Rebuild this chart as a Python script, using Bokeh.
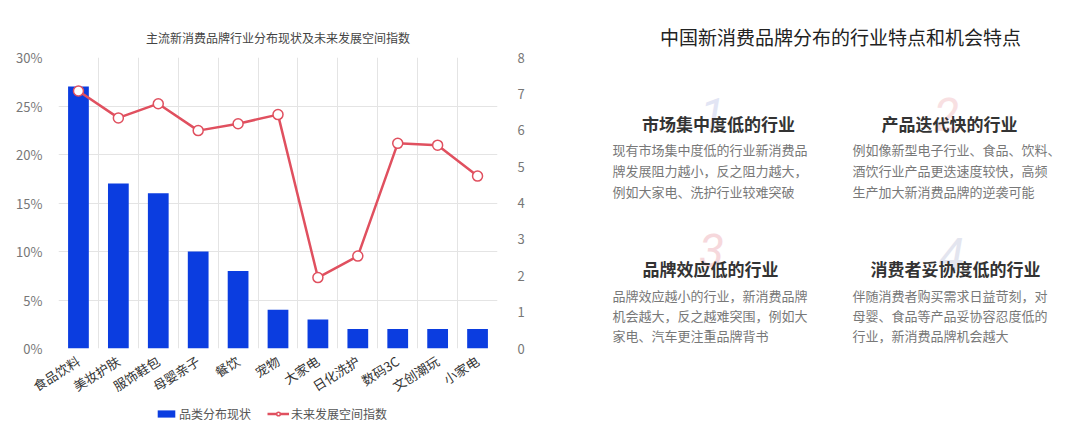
from bokeh.plotting import figure
from bokeh.models import (Range1d, LinearAxis, FixedTicker, PrintfTickFormatter,
                          Legend, LegendItem, Label, ColumnDataSource, Title)
from bokeh.layouts import row, column
from bokeh.embed import file_html
from bokeh.resources import INLINE

# ---------------- data ----------------
categories = ["食品饮料", "美妆护肤", "服饰鞋包", "母婴亲子", "餐饮", "宠物",
              "大家电", "日化洗护", "数码3C", "文创潮玩", "小家电"]
share_pct = [27, 17, 16, 10, 8, 4, 3, 2, 2, 2, 2]
space_index = [7.08, 6.34, 6.73, 5.99, 6.18, 6.43, 1.95, 2.54, 5.64, 5.59, 4.74]
left_ticks = [0, 5, 10, 15, 20, 25, 30]
right_ticks = [0, 1, 2, 3, 4, 5, 6, 7, 8]
chart_title = "主流新消费品牌行业分布现状及未来发展空间指数"
legend_labels = ["品类分布现状", "未来发展空间指数"]

panel_title = "中国新消费品牌分布的行业特点和机会特点"
card_numbers = ["1", "2", "3", "4"]
card_titles = ["市场集中度低的行业", "产品迭代快的行业", "品牌效应低的行业", "消费者妥协度低的行业"]
card_bodies = [
    ["现有市场集中度低的行业新消费品", "牌发展阻力越小，反之阻力越大，", "例如大家电、洗护行业较难突破"],
    ["例如像新型电子行业、食品、饮料、", "酒饮行业产品更迭速度较快，高频", "生产加大新消费品牌的逆袭可能"],
    ["品牌效应越小的行业，新消费品牌", "机会越大，反之越难突围，例如大", "家电、汽车更注重品牌背书"],
    ["伴随消费者购买需求日益苛刻，对", "母婴、食品等产品妥协容忍度低的", "行业，新消费品牌机会越大"],
]

FONT = "Noto Sans CJK SC"
BLUE = "#0b3de0"
RED = "#e0505f"
GRID = "#e4e4e4"

W, H = 532, 424
LEG_H = 18
H1 = H - LEG_H
BL, BR, BT = 58, 35, 57
BB = H1 - 349            # frame 58..497 x 57..349

# ---------------- left chart ----------------
xs = list(range(len(categories)))
src = ColumnDataSource(dict(x=xs, share=share_pct, idx=space_index))

p1 = figure(width=W, height=H1,
            x_range=Range1d(-0.5, len(categories) - 0.5),
            y_range=Range1d(left_ticks[0], left_ticks[-1]),
            output_backend="svg", toolbar_location=None,
            min_border_left=BL, min_border_right=BR,
            min_border_top=BT, min_border_bottom=BB)
p1.extra_y_ranges = {"idx": Range1d(right_ticks[0], right_ticks[-1])}
p1.outline_line_color = None

p1.title = Title(text=chart_title, align="center", text_font=FONT,
                 text_font_size="12px", text_color="#444444",
                 text_font_style="normal", standoff=24)

bar_style = dict(fill_color=BLUE, line_color=None)
line_style = dict(line_color=RED, line_width=2.5)
dot_style = dict(marker="circle", size=10, fill_color="white", line_color=RED, line_width=1.5)

p1.vbar(x="x", top="share", width=0.52, source=src, **bar_style)
p1.line(x="x", y="idx", source=src, y_range_name="idx", **line_style)
p1.scatter(x="x", y="idx", source=src, y_range_name="idx", **dot_style)

p1.xaxis.ticker = FixedTicker(ticks=xs)
p1.xaxis.major_label_overrides = {i: c for i, c in zip(xs, categories)}
p1.xaxis.major_label_orientation = 0.56
p1.yaxis.ticker = FixedTicker(ticks=left_ticks)
p1.yaxis.formatter = PrintfTickFormatter(format="%d%%")

raxis = LinearAxis(y_range_name="idx", ticker=FixedTicker(ticks=right_ticks))
p1.add_layout(raxis, "right")

for ax in p1.axis:
    ax.axis_line_color = None
    ax.major_tick_line_color = None
    ax.minor_tick_line_color = None
    ax.major_label_text_font = FONT
    ax.major_label_text_font_size = "13px"
    ax.major_label_text_color = "#777777"
p1.xaxis.major_label_text_color = "#333333"
p1.xaxis.major_label_standoff = 5
p1.yaxis[0].major_label_standoff = 10
raxis.major_label_standoff = 14

p1.ygrid.ticker = FixedTicker(ticks=left_ticks)
p1.ygrid.grid_line_color = GRID
p1.xgrid.ticker = FixedTicker(ticks=[i - 0.5 for i in range(len(categories) + 1)])
p1.xgrid.grid_line_color = GRID

# ---------------- legend strip under the chart ----------------
p3 = figure(width=W, height=LEG_H, x_range=Range1d(0, W), y_range=Range1d(LEG_H, 0),
            output_backend="svg", toolbar_location=None, min_border=0,
            x_axis_location=None, y_axis_location=None)
p3.grid.visible = False
p3.outline_line_color = None
nan = float("nan")
proxy = ColumnDataSource(dict(x=[nan], top=[nan], y=[nan]))   # legend swatches only
leg_bar = p3.vbar(x="x", top="top", width=1, source=proxy, **bar_style)
leg_line = p3.line(x="x", y="y", source=proxy, **line_style)
leg_dot = p3.scatter(x="x", y="y", source=proxy, **dot_style)
legend = Legend(items=[LegendItem(label=legend_labels[0], renderers=[leg_bar], index=0),
                       LegendItem(label=legend_labels[1], renderers=[leg_line, leg_dot], index=0)],
                orientation="horizontal", location=(155, 2),
                border_line_color=None, background_fill_alpha=0,
                label_text_font=FONT, label_text_font_size="12px",
                label_text_color="#555555", glyph_width=22, glyph_height=9,
                label_height=14, label_standoff=2, spacing=16, padding=0, margin=0)
p3.add_layout(legend)

# ---------------- right text panel (data units == pixels) ----------------
p2 = figure(width=W, height=H, x_range=Range1d(0, W), y_range=Range1d(H, 0),
            output_backend="svg", toolbar_location=None, min_border=0,
            x_axis_location=None, y_axis_location=None)
p2.grid.visible = False
p2.outline_line_color = None

p2.add_layout(Label(x=308, y=36, text=panel_title, text_align="center",
                    text_baseline="middle", text_font=FONT, text_font_size="19px",
                    text_color="#222222"))

num_pos = [(180, 114), (414, 114), (179, 250), (419, 254)]
num_col = ["#e2e5f4", "#f8e0e2", "#f6d8dc", "#e3e5ef"]
head_pos = [(186, 123), (417, 123), (178, 268), (423, 268)]
body_pos = [(80, 149), (320, 149), (80, 295), (320, 295)]
body_gap = [21, 21, 20, 20]

for i in range(4):
    nx, ny = num_pos[i]
    p2.add_layout(Label(x=nx, y=ny, text=card_numbers[i], text_align="center",
                        text_baseline="middle", text_font="Roboto",
                        text_font_size="46px", text_font_style="italic",
                        text_color=num_col[i]))
for i in range(4):
    hx, hy = head_pos[i]
    p2.add_layout(Label(x=hx, y=hy, text=card_titles[i], text_align="center",
                        text_baseline="middle", text_font=FONT,
                        text_font_size="17px", text_font_style="bold",
                        text_color="#333333"))
    bx, by = body_pos[i]
    for j, t in enumerate(card_bodies[i]):
        p2.add_layout(Label(x=bx, y=by + j * body_gap[i], text=t, text_align="left",
                            text_baseline="middle", text_font=FONT,
                            text_font_size="13px", text_color="#787878"))

layout = row(column(p1, column(p3)), column(p2))
open("out.html", "w").write(file_html(layout, INLINE))
